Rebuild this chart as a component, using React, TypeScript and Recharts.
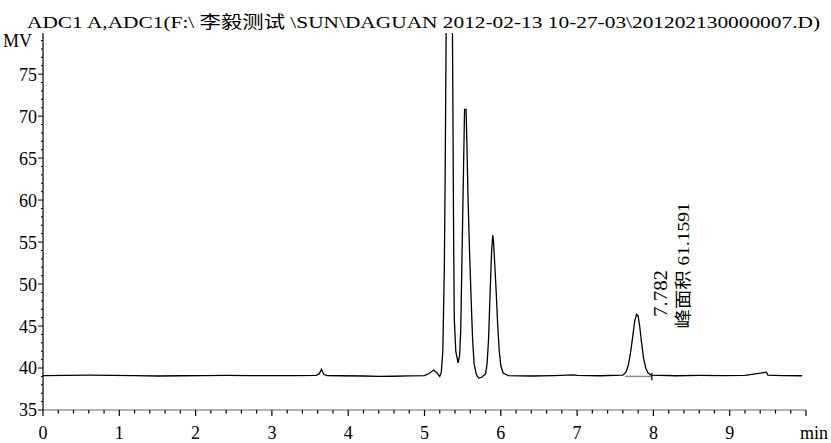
import React from "react";
import { LineChart, Line, XAxis, YAxis, ReferenceDot, ReferenceLine } from "recharts";

// ---- data (retention time in min, signal in MV) ----
const times = [
  0.0, 0.3, 0.6, 0.9, 1.2, 1.5, 1.8, 2.1, 2.4, 2.7, 3.0, 3.3, 3.58, 3.62, 3.65, 3.68, 3.72, 3.9,
  4.2, 4.4, 4.6, 4.8, 5.0, 5.06, 5.12, 5.16, 5.2, 5.22, 5.24, 5.26, 5.27, 5.28, 5.29, 5.31, 5.34,
  5.36, 5.37, 5.38, 5.39, 5.41, 5.44, 5.46, 5.475, 5.49, 5.51, 5.525, 5.545, 5.555, 5.57, 5.59, 5.61,
  5.63, 5.65, 5.68, 5.71, 5.75, 5.8, 5.82, 5.84, 5.86, 5.88, 5.895, 5.905, 5.92, 5.94, 5.96, 5.98,
  6.0, 6.03, 6.1, 6.4, 6.7, 6.95, 7.0, 7.3, 7.6, 7.64, 7.67, 7.7, 7.73, 7.755, 7.78, 7.8, 7.82,
  7.845, 7.87, 7.9, 7.93, 7.97, 8.3, 8.6, 8.9, 9.2, 9.48, 9.5, 9.7, 9.95,
];
const signal = [
  39.1, 39.12, 39.15, 39.12, 39.1, 39.05, 39.08, 39.1, 39.12, 39.1, 39.1, 39.1, 39.12, 39.3, 39.85, 39.25, 39.1, 39.08,
  39.05, 39.0, 39.02, 39.06, 39.1, 39.35, 39.76, 39.45, 39.0, 39.5, 42.0, 52.0, 62.0, 75.0, 90.0, 100.0, 100.0,
  88.0, 75.0, 58.0, 46.0, 42.0, 40.6, 41.5, 44.5, 52.5, 63.0, 70.8, 70.8, 67.0, 60.4, 54.0, 48.5,
  43.5, 40.5, 39.2, 38.8, 38.9, 39.3, 40.5, 43.5, 49.0, 54.0, 55.8, 55.0, 52.5, 49.0, 45.0, 42.0,
  40.3, 39.4, 39.1, 39.05, 39.1, 39.18, 39.12, 39.08, 39.15, 39.5, 40.3, 41.8, 43.8, 45.6, 46.4, 46.2, 45.0,
  43.0, 41.2, 40.0, 39.4, 39.15, 39.08, 39.12, 39.1, 39.12, 39.5, 39.15, 39.1, 39.08,
];

const xMajorTicks = [0, 1, 2, 3, 4, 5, 6, 7, 8, 9, 10];
const xLabelTicks = [0, 1, 2, 3, 4, 5, 6, 7, 8, 9];
const xTicks = Array.from({ length: 51 }, (_, i) => Math.round(i * 2) / 10);
const yMajorTicks = [35, 40, 45, 50, 55, 60, 65, 70, 75];
const yTicks = Array.from({ length: 45 }, (_, i) => 35 + i);
const xDomain = [0, 10];
const yDomain = [35, 79.9];

const peakTime = 7.782;
const peakHeight = 46.5;
const peakTimeLabel = "7.782";
const peakAreaLabel = "峰面积 61.1591";
const integrationBase = [{ x: 7.63, y: 39.0 }, { x: 7.98, y: 39.0 }];
const integrationMark = [{ x: 7.98, y: 39.45 }, { x: 7.98, y: 38.55 }];

const titleText = "ADC1 A,ADC1(F:\\ 李毅测试 \\SUN\\DAGUAN 2012-02-13 10-27-03\\201202130000007.D)";

const data = times.map((t, i) => ({ t, v: signal[i] }));

const FONT = "'Liberation Serif', 'DejaVu Serif', 'Noto Sans CJK SC', serif";

const XTick = (props: any) => {
  const { x, y, payload } = props;
  const v = payload.value;
  const major = xMajorTicks.some((m) => Math.abs(m - v) < 1e-6);
  const labeled = xLabelTicks.some((m) => Math.abs(m - v) < 1e-6);
  return (
    <g>
      <line x1={x} y1={y} x2={x} y2={y + (major ? 6 : 3.5)} stroke="#000" strokeWidth={1.2} />
      {labeled && (
        <text x={x} y={y + 29} textAnchor="middle" fontSize={18} fontFamily={FONT} fill="#000">
          {v}
        </text>
      )}
    </g>
  );
};

const YTick = (props: any) => {
  const { x, y, payload } = props;
  const v = payload.value;
  const major = yMajorTicks.includes(v);
  return (
    <g>
      <line x1={x - (major ? 5 : 2)} y1={y} x2={x} y2={y} stroke="#000" strokeWidth={1} />
      {major && (
        <text x={x - 6} y={y} dy="0.36em" textAnchor="end" fontSize={18} fontFamily={FONT} fill="#000">
          {v}
        </text>
      )}
    </g>
  );
};

const AnnotLabel = (props: any) => {
  const vb = props.viewBox || {};
  const cx = (vb.x ?? 0) + (vb.width ?? 0) / 2;
  const cy = (vb.y ?? 0) + (vb.height ?? 0) / 2;
  const a1x = cx + 24;
  const a1y = cy - 20;
  const a2x = cx + 46;
  const a2y = cy - 48;
  return (
    <g>
      <text
        x={a1x}
        y={a1y}
        dy="0.36em"
        textAnchor="middle"
        fontSize={18}
        fontFamily={FONT}
        fill="#000"
        textLength={47}
        lengthAdjust="spacingAndGlyphs"
        transform={`rotate(-90, ${a1x}, ${a1y})`}
      >
        {peakTimeLabel}
      </text>
      <text
        x={a2x}
        y={a2y}
        dy="0.36em"
        textAnchor="middle"
        fontSize={17}
        fontFamily={FONT}
        fill="#000"
        textLength={126}
        lengthAdjust="spacingAndGlyphs"
        transform={`rotate(-90, ${a2x}, ${a2y})`}
      >
        {peakAreaLabel}
      </text>
    </g>
  );
};

export default function App() {
  return (
    <div style={{ position: "absolute", left: 0, top: 0, width: 831, height: 443, background: "#fff" }}>
      <LineChart
        width={831}
        height={443}
        data={data}
        margin={{ top: 33, right: 25, bottom: 0, left: 0 }}
      >
        <XAxis
          dataKey="t"
          type="number"
          domain={xDomain}
          ticks={xTicks}
          interval={0}
          tickSize={0}
          tickMargin={0}
          tickLine={false}
          tick={<XTick />}
          height={33}
          axisLine={{ stroke: "#9a9a9a", strokeWidth: 1.5 }}
          allowDataOverflow
        />
        <YAxis
          type="number"
          domain={yDomain}
          ticks={yTicks}
          interval={0}
          tickSize={0}
          tickMargin={0}
          tickLine={false}
          tick={<YTick />}
          width={43}
          axisLine={{ stroke: "#000", strokeWidth: 1.2 }}
          allowDataOverflow
        />
        <ReferenceLine segment={integrationBase} stroke="#8a8a8a" strokeWidth={1.5} />
        <ReferenceLine segment={integrationMark} stroke="#000" strokeWidth={1.2} />
        <Line
          type="linear"
          dataKey="v"
          stroke="#000"
          strokeWidth={1.3}
          dot={false}
          isAnimationActive={false}
        />
        <ReferenceDot
          x={peakTime}
          y={peakHeight}
          r={1}
          fill="none"
          stroke="none"
          label={AnnotLabel}
        />
      </LineChart>
      <svg
        width={831}
        height={443}
        style={{ position: "absolute", left: 0, top: 0, pointerEvents: "none" }}
      >
        <text
          x={27}
          y={28}
          fontSize={17}
          fontFamily={FONT}
          fill="#000"
          textLength={793}
          lengthAdjust="spacingAndGlyphs"
        >
          {titleText}
        </text>
        <text x={3} y={47} fontSize={18} fontFamily={FONT} fill="#000">
          MV
        </text>
        <text x={800} y={439} fontSize={18} fontFamily={FONT} fill="#000">
          min
        </text>
      </svg>
    </div>
  );
}
